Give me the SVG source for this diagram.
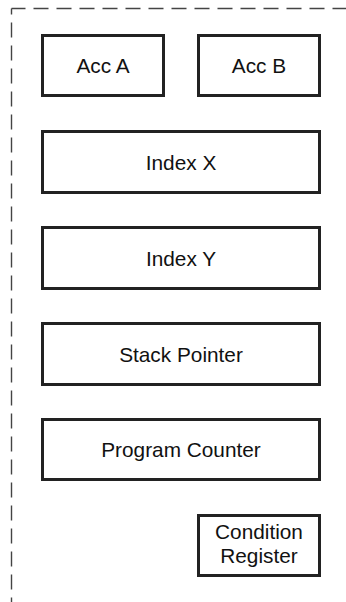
<svg xmlns="http://www.w3.org/2000/svg" width="346" height="602" viewBox="0 0 346 602">
<style>
.box{fill:#fff;stroke:#222;stroke-width:3}
.lbl{font-family:"Liberation Sans",Arial,Helvetica,sans-serif;font-size:20.8px;fill:#111;text-anchor:middle}
.frame{fill:none;stroke:#444;stroke-width:1.4;stroke-dasharray:15 8}
</style>
<rect width="346" height="602" fill="#fff"/>
<g id="frame">
<path class="frame" d="M11.5,8.5 H346" stroke-dashoffset="1"/>
<path class="frame" d="M11.5,8.5 V602" stroke-dashoffset="9"/>
</g>
<g id="connectors"></g>
<g id="acc-a">
<rect class="box" x="42.5" y="35.5" width="121" height="60"/>
<text class="lbl" x="103" y="73">Acc A</text>
</g>
<g id="acc-b">
<rect class="box" x="198.5" y="35.5" width="121" height="60"/>
<text class="lbl" x="259" y="73">Acc B</text>
</g>
<g id="index-x">
<rect class="box" x="42.5" y="131.5" width="277" height="61"/>
<text class="lbl" x="181" y="170">Index X</text>
</g>
<g id="index-y">
<rect class="box" x="42.5" y="227.5" width="277" height="61"/>
<text class="lbl" x="181" y="266">Index Y</text>
</g>
<g id="stack-pointer">
<rect class="box" x="42.5" y="323.5" width="277" height="61"/>
<text class="lbl" x="181" y="362">Stack Pointer</text>
</g>
<g id="program-counter">
<rect class="box" x="42.5" y="419.5" width="277" height="60"/>
<text class="lbl" x="181" y="457">Program Counter</text>
</g>
<g id="condition-register">
<rect class="box" x="198.5" y="515.5" width="121" height="60"/>
<text class="lbl" x="259" y="538.5">Condition</text>
<text class="lbl" x="259" y="562.5">Register</text>
</g>
</svg>
